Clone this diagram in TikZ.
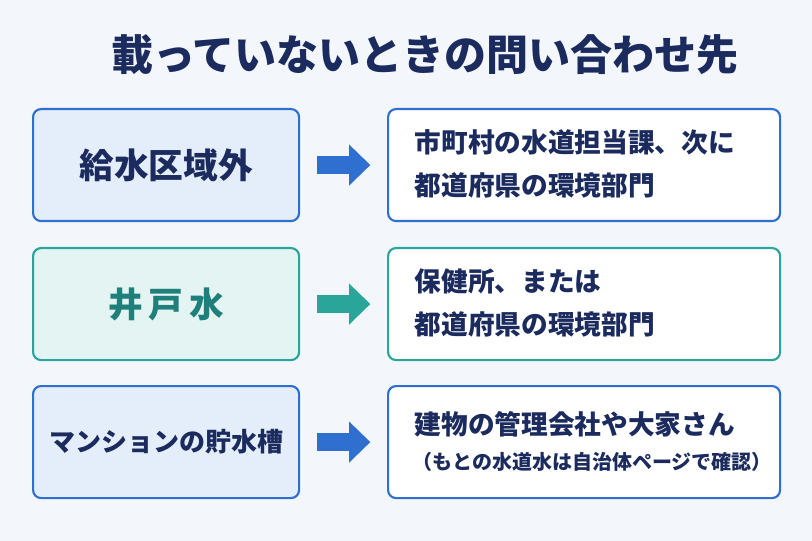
\documentclass[tikz,border=0pt]{standalone}
\usepackage{fontspec}
\setmainfont{Noto Sans CJK JP}
\usetikzlibrary{arrows.meta}
\definecolor{bg}{HTML}{F3F7FC}
\definecolor{navy}{HTML}{1B2B5E}
\definecolor{blu}{HTML}{2F6FD0}
\definecolor{teal}{HTML}{2AA59A}
\definecolor{tealtxt}{HTML}{1F7F7A}
\definecolor{lblue}{HTML}{E4EEFB}
\definecolor{lteal}{HTML}{E3F4F2}
\begin{document}
\begin{tikzpicture}[x=0.75pt,y=-0.75pt,
  lb/.style={draw=#1,line width=1.6pt,rounded corners=6pt,minimum width=266*0.75pt,minimum height=112*0.75pt,anchor=north west,font=\bfseries\fontsize{26}{30}\selectfont},
  rb/.style={draw=#1,fill=white,line width=1.6pt,rounded corners=6pt,minimum width=392*0.75pt,minimum height=112*0.75pt,anchor=north west},
  arr/.style={draw=#1,line width=13pt,-{Triangle[width=30pt,length=16pt]},shorten <=12.5pt,shorten >=12.5pt},
  rt/.style={anchor=west,align=left,text=navy,font=\bfseries\fontsize{20}{32}\selectfont}]
\fill[bg] (0,0) rectangle (812,541);
\node[text=navy,font=\bfseries\fontsize{31.5}{34}\selectfont] (title) at (425,55) {載っていないときの問い合わせ先};
\node[lb=blu,fill=lblue,text=navy] (l1) at (32,108) {給水区域外};
\node[lb=teal,fill=lteal,text=tealtxt] (l2) at (32,247) {井\,戸\,水};
\node[lb=blu,fill=lblue,text=navy,font=\bfseries\fontsize{19.5}{22}\selectfont] (l3) at (32,385) {マンションの貯水槽};
\node[rb=blu] (r1) at (387,108) {};
\node[rb=teal] (r2) at (387,247) {};
\node[rb=blu] (r3) at (387,385) {};
\node[rt] (t1) at (410,164) {市町村の水道担当課、次に\\都道府県の環境部門};
\node[rt] (t2) at (410,303) {保健所、または\\都道府県の環境部門};
\node[rt,font=\bfseries\fontsize{20}{24}\selectfont] (t3a) at (410,424) {建物の管理会社や大家さん};
\node[rt,font=\bfseries\fontsize{15}{18}\selectfont] (t3b) at (408,462) {（もとの水道水は自治体ページで確認）};
\draw[arr=blu] (l1.east) -- (r1.west);
\draw[arr=teal] (l2.east) -- (r2.west);
\draw[arr=blu] (l3.east) -- (r3.west);
\end{tikzpicture}
\end{document}
